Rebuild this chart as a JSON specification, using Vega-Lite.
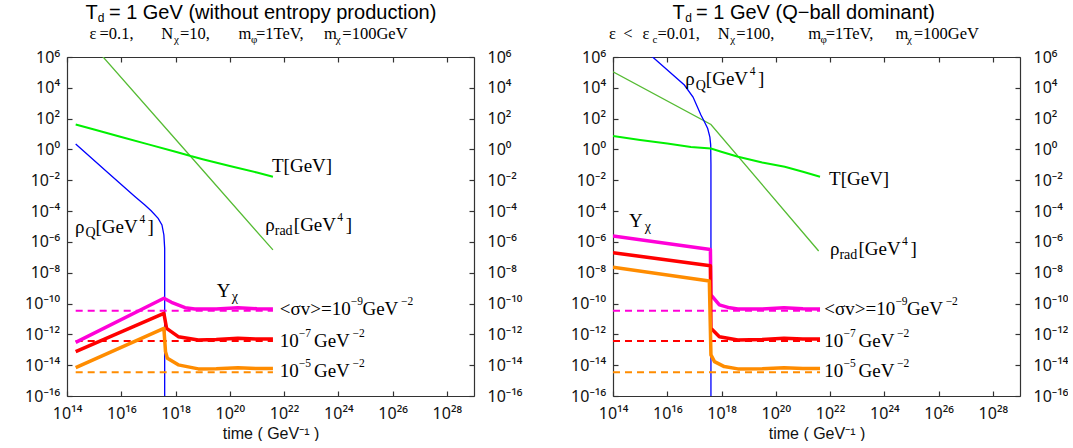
{
"$schema": "https://vega.github.io/schema/vega-lite/v6.json",
"background": "white",
"padding": {"left": 24, "top": 3, "right": 0, "bottom": 0},
"spacing": 139,
"bounds": "flush",
"datasets": {
"curves": [
{"p":"L","s":"T","t":2.09e14,"v":41.7},{"p":"L","s":"T","t":1e15,"v":19.5},{"p":"L","s":"T","t":1e16,"v":6.46},{"p":"L","s":"T","t":1e17,"v":2.14},{"p":"L","s":"T","t":1e18,"v":0.708},{"p":"L","s":"T","t":3.63e18,"v":0.372},{"p":"L","s":"T","t":1e19,"v":0.234},{"p":"L","s":"T","t":1e20,"v":0.0851},{"p":"L","s":"T","t":1e21,"v":0.0316},{"p":"L","s":"T","t":3.89e21,"v":0.017},
{"p":"L","s":"rho_rad","t":2.09e14,"v":1.05e8},{"p":"L","s":"rho_rad","t":3.63e18,"v":0.347},{"p":"L","s":"rho_rad","t":3.89e21,"v":3.02e-7},
{"p":"L","s":"rho_Q","t":2.09e14,"v":2.24},{"p":"L","s":"rho_Q","t":3.16e15,"v":0.0324},{"p":"L","s":"rho_Q","t":3.16e16,"v":8.91e-4},{"p":"L","s":"rho_Q","t":7.41e16,"v":2.45e-4},{"p":"L","s":"rho_Q","t":1.26e17,"v":1.05e-4},{"p":"L","s":"rho_Q","t":2.29e17,"v":3.39e-5},{"p":"L","s":"rho_Q","t":3.16e17,"v":1.26e-5},{"p":"L","s":"rho_Q","t":3.72e17,"v":2.82e-6},{"p":"L","s":"rho_Q","t":3.98e17,"v":3.8e-7},{"p":"L","s":"rho_Q","t":3.98e17,"v":1e-18},
{"p":"L","s":"D9","t":2.09e14,"v":3.47e-11},{"p":"L","s":"D9","t":3.89e21,"v":3.47e-11},
{"p":"L","s":"D7","t":2.09e14,"v":3.72e-13},{"p":"L","s":"D7","t":3.89e21,"v":3.72e-13},
{"p":"L","s":"D5","t":2.09e14,"v":3.47e-15},{"p":"L","s":"D5","t":3.89e21,"v":3.47e-15},
{"p":"L","s":"Y9","t":2.09e14,"v":3.02e-13},{"p":"L","s":"Y9","t":3.72e17,"v":2.19e-10},{"p":"L","s":"Y9","t":7.08e17,"v":1.2e-10},{"p":"L","s":"Y9","t":2.24e18,"v":5.37e-11},{"p":"L","s":"Y9","t":5.13e18,"v":4.47e-11},{"p":"L","s":"Y9","t":3.16e19,"v":4.37e-11},{"p":"L","s":"Y9","t":2e20,"v":5.37e-11},{"p":"L","s":"Y9","t":1e21,"v":4.57e-11},{"p":"L","s":"Y9","t":3.89e21,"v":4.47e-11},
{"p":"L","s":"Y7","t":2.09e14,"v":7.59e-14},{"p":"L","s":"Y7","t":3.72e17,"v":2.29e-11},{"p":"L","s":"Y7","t":4.68e17,"v":2.45e-12},{"p":"L","s":"Y7","t":1.26e18,"v":7.08e-13},{"p":"L","s":"Y7","t":6.92e18,"v":4.37e-13},{"p":"L","s":"Y7","t":3.16e19,"v":4.68e-13},{"p":"L","s":"Y7","t":2e20,"v":5.5e-13},{"p":"L","s":"Y7","t":1e21,"v":5.01e-13},{"p":"L","s":"Y7","t":3.89e21,"v":5.01e-13},
{"p":"L","s":"Y5","t":2.09e14,"v":6.92e-15},{"p":"L","s":"Y5","t":3.72e17,"v":2.45e-12},{"p":"L","s":"Y5","t":4.27e17,"v":7.59e-14},{"p":"L","s":"Y5","t":5.01e17,"v":2.82e-14},{"p":"L","s":"Y5","t":1.26e18,"v":1.05e-14},{"p":"L","s":"Y5","t":6.92e18,"v":5.75e-15},{"p":"L","s":"Y5","t":3.16e19,"v":5.89e-15},{"p":"L","s":"Y5","t":2e20,"v":6.76e-15},{"p":"L","s":"Y5","t":1e21,"v":6.03e-15},{"p":"L","s":"Y5","t":3.89e21,"v":6.03e-15},
{"p":"R","s":"T","t":1e14,"v":7.41},{"p":"R","s":"T","t":1e15,"v":4.17},{"p":"R","s":"T","t":1e16,"v":2.4},{"p":"R","s":"T","t":7.41e16,"v":1.445},{"p":"R","s":"T","t":4.07e17,"v":1.148},{"p":"R","s":"T","t":9.77e17,"v":0.708},{"p":"R","s":"T","t":4.07e18,"v":0.339},{"p":"R","s":"T","t":3.16e19,"v":0.141},{"p":"R","s":"T","t":2.14e20,"v":0.0759},{"p":"R","s":"T","t":1e21,"v":0.0355},{"p":"R","s":"T","t":4.27e21,"v":0.017},
{"p":"R","s":"rho_rad","t":1e14,"v":1.1e5},{"p":"R","s":"rho_rad","t":4.07e17,"v":41.7},{"p":"R","s":"rho_rad","t":3.8e21,"v":2.57e-7},
{"p":"R","s":"rho_Q","t":1e14,"v":1.9e8},{"p":"R","s":"rho_Q","t":2.88e15,"v":1e6},{"p":"R","s":"rho_Q","t":4.27e16,"v":1.51e4},{"p":"R","s":"rho_Q","t":8.91e16,"v":2512},{"p":"R","s":"rho_Q","t":1.74e17,"v":170},{"p":"R","s":"rho_Q","t":2.34e17,"v":63.1},{"p":"R","s":"rho_Q","t":3.09e17,"v":22.9},{"p":"R","s":"rho_Q","t":3.72e17,"v":6.31},{"p":"R","s":"rho_Q","t":3.98e17,"v":2.0},{"p":"R","s":"rho_Q","t":4.07e17,"v":0.1},{"p":"R","s":"rho_Q","t":4.07e17,"v":1e-18},
{"p":"R","s":"D9","t":1e14,"v":3.47e-11},{"p":"R","s":"D9","t":4.27e21,"v":3.47e-11},
{"p":"R","s":"D7","t":1e14,"v":3.72e-13},{"p":"R","s":"D7","t":4.27e21,"v":3.72e-13},
{"p":"R","s":"D5","t":1e14,"v":3.47e-15},{"p":"R","s":"D5","t":4.27e21,"v":3.47e-15},
{"p":"R","s":"Y9","t":1e14,"v":2.4e-6},{"p":"R","s":"Y9","t":3.89e17,"v":3.24e-7},{"p":"R","s":"Y9","t":4.07e17,"v":3.63e-10},{"p":"R","s":"Y9","t":8.32e17,"v":8.13e-11},{"p":"R","s":"Y9","t":2e18,"v":5.25e-11},{"p":"R","s":"Y9","t":3.98e18,"v":4.47e-11},{"p":"R","s":"Y9","t":3.16e19,"v":4.37e-11},{"p":"R","s":"Y9","t":2e20,"v":5.37e-11},{"p":"R","s":"Y9","t":1e21,"v":4.57e-11},{"p":"R","s":"Y9","t":4.27e21,"v":4.47e-11},
{"p":"R","s":"Y7","t":1e14,"v":2e-7},{"p":"R","s":"Y7","t":3.89e17,"v":2.88e-8},{"p":"R","s":"Y7","t":4.07e17,"v":2.45e-12},{"p":"R","s":"Y7","t":8.32e17,"v":7.08e-13},{"p":"R","s":"Y7","t":3.98e18,"v":4.37e-13},{"p":"R","s":"Y7","t":3.16e19,"v":4.68e-13},{"p":"R","s":"Y7","t":2e20,"v":5.5e-13},{"p":"R","s":"Y7","t":1e21,"v":5.01e-13},{"p":"R","s":"Y7","t":4.27e21,"v":5.01e-13},
{"p":"R","s":"Y5","t":1e14,"v":2.24e-8},{"p":"R","s":"Y5","t":3.55e17,"v":2.95e-9},{"p":"R","s":"Y5","t":4.07e17,"v":4.68e-14},{"p":"R","s":"Y5","t":5.5e17,"v":1.7e-14},{"p":"R","s":"Y5","t":1.26e18,"v":8.13e-15},{"p":"R","s":"Y5","t":3.98e18,"v":5.75e-15},{"p":"R","s":"Y5","t":3.16e19,"v":5.89e-15},{"p":"R","s":"Y5","t":2e20,"v":6.76e-15},{"p":"R","s":"Y5","t":1e21,"v":6.03e-15},{"p":"R","s":"Y5","t":4.27e21,"v":6.03e-15}
],
"labels": [
{"p":"L","role":"title","x":4.79e14,"y":2.864e8,"text":"T"},
{"p":"L","role":"titlesub","x":1.371e15,"y":1.774e8,"text":"d"},
{"p":"L","role":"title","x":3.5e15,"y":2.864e8,"text":"= 1 GeV (without entropy production)"},
{"p":"R","role":"title","x":1.57e16,"y":2.864e8,"text":"T"},
{"p":"R","role":"titlesub","x":4.645e16,"y":1.774e8,"text":"d"},
{"p":"R","role":"title","x":1.146e17,"y":2.864e8,"text":"= 1 GeV (Q−ball dominant)"},
{"p":"L","role":"param","x":6.761e14,"y":1.578e7,"text":"ε"},
{"p":"L","role":"param","x":1.585e15,"y":1.578e7,"text":"=0.1,"},
{"p":"L","role":"param","x":2.951e17,"y":1.578e7,"text":"N"},
{"p":"L","role":"paramsub","x":8.73e17,"y":8.69e6,"text":"χ"},
{"p":"L","role":"param","x":1.456e18,"y":1.578e7,"text":"=10,"},
{"p":"L","role":"param","x":2.099e20,"y":1.578e7,"text":"m"},
{"p":"L","role":"paramsub","x":5.998e20,"y":8.69e6,"text":"φ"},
{"p":"L","role":"param","x":9.183e20,"y":1.578e7,"text":"=1TeV,"},
{"p":"L","role":"param","x":2.951e23,"y":1.578e7,"text":"m"},
{"p":"L","role":"paramsub","x":8.017e23,"y":8.69e6,"text":"χ"},
{"p":"L","role":"param","x":1.406e24,"y":1.578e7,"text":"=100GeV"},
{"p":"R","role":"param","x":7.112e13,"y":1.578e7,"text":"ε"},
{"p":"R","role":"param","x":2.404e14,"y":1.578e7,"text":"<"},
{"p":"R","role":"param","x":1.216e15,"y":1.578e7,"text":"ε"},
{"p":"R","role":"paramsub","x":2.858e15,"y":8.69e6,"text":"c"},
{"p":"R","role":"param","x":4.375e15,"y":1.578e7,"text":"=0.01,"},
{"p":"R","role":"param","x":7.295e17,"y":1.578e7,"text":"N"},
{"p":"R","role":"paramsub","x":2.084e18,"y":8.69e6,"text":"χ"},
{"p":"R","role":"param","x":3.475e18,"y":1.578e7,"text":"=100,"},
{"p":"R","role":"param","x":1.57e21,"y":1.578e7,"text":"m"},
{"p":"R","role":"paramsub","x":4.487e21,"y":8.69e6,"text":"φ"},
{"p":"R","role":"param","x":6.871e21,"y":1.578e7,"text":"=1TeV,"},
{"p":"R","role":"param","x":2.553e24,"y":1.578e7,"text":"m"},
{"p":"R","role":"paramsub","x":6.871e24,"y":8.69e6,"text":"χ"},
{"p":"R","role":"param","x":1.216e25,"y":1.578e7,"text":"=100GeV"},
{"p":"L","role":"lab","x":1.977e14,"y":3.963e-6,"text":"ρ"},
{"p":"L","role":"labsub","x":4.797e14,"y":2.023e-6,"text":"Q"},
{"p":"L","role":"lab","x":1.127e15,"y":3.963e-6,"text":"[GeV"},
{"p":"L","role":"labsup","x":4.721e16,"y":1.766e-5,"text":"4"},
{"p":"L","role":"lab","x":9.333e16,"y":3.963e-6,"text":"]"},
{"p":"L","role":"lab","x":3.597e21,"y":0.03581,"text":"T[GeV]"},
{"p":"L","role":"lab","x":2.046e21,"y":5.105e-6,"text":"ρ"},
{"p":"L","role":"labsub","x":4.529e21,"y":2.606e-6,"text":"rad"},
{"p":"L","role":"lab","x":2.286e22,"y":5.105e-6,"text":"[GeV"},
{"p":"L","role":"labsup","x":9.183e23,"y":2.275e-5,"text":"4"},
{"p":"L","role":"lab","x":1.879e24,"y":5.105e-6,"text":"]"},
{"p":"L","role":"lab","x":3.304e19,"y":2.799e-10,"text":"Y"},
{"p":"L","role":"labsub","x":1.186e20,"y":1.429e-10,"text":"χ"},
{"p":"L","role":"lab","x":6.934e21,"y":1.824e-11,"text":"<σv>=10"},
{"p":"L","role":"labsup","x":2.877e24,"y":8.128e-11,"text":"−9"},
{"p":"L","role":"lab","x":7.745e24,"y":1.824e-11,"text":"GeV"},
{"p":"L","role":"labsup","x":2.046e26,"y":8.128e-11,"text":"−2"},
{"p":"L","role":"lab","x":6.934e21,"y":1.603e-13,"text":"10"},
{"p":"L","role":"labsup","x":3.499e22,"y":7.145e-13,"text":"−7"},
{"p":"L","role":"lab","x":1.259e23,"y":1.603e-13,"text":"GeV"},
{"p":"L","role":"labsup","x":3.304e24,"y":7.145e-13,"text":"−2"},
{"p":"L","role":"lab","x":6.934e21,"y":1.637e-15,"text":"10"},
{"p":"L","role":"labsup","x":3.499e22,"y":7.295e-15,"text":"−5"},
{"p":"L","role":"lab","x":1.259e23,"y":1.637e-15,"text":"GeV"},
{"p":"L","role":"labsup","x":3.304e24,"y":7.295e-15,"text":"−2"},
{"p":"R","role":"lab","x":4.645e16,"y":1.5e4,"text":"ρ"},
{"p":"R","role":"labsub","x":1.127e17,"y":7.656e3,"text":"Q"},
{"p":"R","role":"lab","x":2.642e17,"y":1.5e4,"text":"[GeV"},
{"p":"R","role":"labsup","x":1.107e19,"y":6.683e4,"text":"4"},
{"p":"R","role":"lab","x":2.193e19,"y":1.5e4,"text":"]"},
{"p":"R","role":"lab","x":9.183e21,"y":4.909e-3,"text":"T[GeV]"},
{"p":"R","role":"lab","x":1e22,"y":1.483e-7,"text":"ρ"},
{"p":"R","role":"labsub","x":2.208e22,"y":7.568e-8,"text":"rad"},
{"p":"R","role":"lab","x":1.117e23,"y":1.483e-7,"text":"[GeV"},
{"p":"R","role":"labsup","x":4.487e24,"y":6.607e-7,"text":"4"},
{"p":"R","role":"lab","x":9.183e24,"y":1.483e-7,"text":"]"},
{"p":"R","role":"lab","x":3.917e14,"y":9.705e-6,"text":"Y"},
{"p":"R","role":"labsub","x":1.479e15,"y":4.955e-6,"text":"χ"},
{"p":"R","role":"lab","x":6.15e21,"y":1.824e-11,"text":"<σv>=10"},
{"p":"R","role":"labsup","x":2.553e24,"y":8.128e-11,"text":"−9"},
{"p":"R","role":"lab","x":6.871e24,"y":1.824e-11,"text":"GeV"},
{"p":"R","role":"labsup","x":1.816e26,"y":8.128e-11,"text":"−2"},
{"p":"R","role":"lab","x":6.15e21,"y":1.603e-13,"text":"10"},
{"p":"R","role":"labsup","x":3.11e22,"y":7.145e-13,"text":"−7"},
{"p":"R","role":"lab","x":1.117e23,"y":1.603e-13,"text":"GeV"},
{"p":"R","role":"labsup","x":2.93e24,"y":7.145e-13,"text":"−2"},
{"p":"R","role":"lab","x":6.15e21,"y":1.637e-15,"text":"10"},
{"p":"R","role":"labsup","x":3.11e22,"y":7.295e-15,"text":"−5"},
{"p":"R","role":"lab","x":1.117e23,"y":1.637e-15,"text":"GeV"},
{"p":"R","role":"labsup","x":2.93e24,"y":7.295e-15,"text":"−2"}
]
},
"hconcat": [
{
"width": 407, "height": 339,
"resolve": {"axis": {"x": "independent", "y": "independent"}},
"layer": [
{"data": {"name": "curves"}, "transform": [{"filter": "datum.p==='L' && (datum.s==='rho_rad' || datum.s==='rho_Q')"}],
 "mark": {"type": "line", "clip": true, "strokeWidth": 1.3},
 "encoding": {
  "x": {"field": "t", "type": "quantitative", "scale": {"type": "log", "domain": [1e14, 1e29], "nice": false},
        "axis": {"orient": "bottom", "values": [1e14,1e16,1e18,1e20,1e22,1e24,1e26,1e28], "labelExpr": "'10' + ['¹⁴','¹⁶','¹⁸','²⁰','²²','²⁴','²⁶','²⁸'][round(log(datum.value)/LN10/2) - 7]", "title": "time ( GeV⁻¹ )", "labelPadding": 14, "labelFlush": false, "labelOverlap": false, "titlePadding": 4}},
  "y": {"field": "v", "type": "quantitative", "scale": {"type": "log", "domain": [1e-16, 1e6], "nice": false},
        "axis": {"orient": "left", "values": [1e-16,1e-14,1e-12,1e-10,1e-8,1e-6,1e-4,1e-2,1,1e2,1e4,1e6], "labelExpr": "'10' + ['⁻¹⁶','⁻¹⁴','⁻¹²','⁻¹⁰','⁻⁸','⁻⁶','⁻⁴','⁻²','⁰','²','⁴','⁶'][round(log(datum.value)/LN10/2) + 8]", "title": null, "labelPadding": 12.5, "labelOverlap": false}},
  "color": {"field": "s", "type": "nominal", "legend": null, "scale": {"domain": ["rho_rad","T","rho_Q","D9","D7","D5","Y9","Y7","Y5"], "range": ["#55bb33","#00f000","#0000ff","#ff00d8","#ff0000","#ff8c00","#ff00d8","#ff0000","#ff8c00"]}},
  "order": {"value": null}
 }},
{"data": {"name": "curves"}, "transform": [{"filter": "datum.p==='L' && datum.s==='T'"}],
 "mark": {"type": "line", "clip": true, "strokeWidth": 2},
 "encoding": {
  "x": {"field": "t", "type": "quantitative", "scale": {"type": "log", "domain": [1e14, 1e29], "nice": false},
        "axis": {"orient": "top", "values": [1e14,1e16,1e18,1e20,1e22,1e24,1e26,1e28], "labels": false, "title": null}},
  "y": {"field": "v", "type": "quantitative", "scale": {"type": "log", "domain": [1e-16, 1e6], "nice": false},
        "axis": {"orient": "right", "values": [1e-16,1e-14,1e-12,1e-10,1e-8,1e-6,1e-4,1e-2,1,1e2,1e4,1e6], "labelExpr": "'10' + ['⁻¹⁶','⁻¹⁴','⁻¹²','⁻¹⁰','⁻⁸','⁻⁶','⁻⁴','⁻²','⁰','²','⁴','⁶'][round(log(datum.value)/LN10/2) + 8]", "title": null, "labelPadding": 18, "labelOverlap": false}},
  "color": {"field": "s", "type": "nominal", "legend": null, "scale": {"domain": ["rho_rad","T","rho_Q","D9","D7","D5","Y9","Y7","Y5"], "range": ["#55bb33","#00f000","#0000ff","#ff00d8","#ff0000","#ff8c00","#ff00d8","#ff0000","#ff8c00"]}},
  "order": {"value": null}
 }},
{"data": {"name": "curves"}, "transform": [{"filter": "datum.p==='L' && (datum.s==='D9' || datum.s==='D7' || datum.s==='D5')"}],
 "mark": {"type": "line", "clip": true, "strokeWidth": 2, "strokeDash": [7, 5]},
 "encoding": {
  "x": {"field": "t", "type": "quantitative", "scale": {"type": "log", "domain": [1e14, 1e29], "nice": false}, "axis": null},
  "y": {"field": "v", "type": "quantitative", "scale": {"type": "log", "domain": [1e-16, 1e6], "nice": false}, "axis": null},
  "color": {"field": "s", "type": "nominal", "legend": null, "scale": {"domain": ["rho_rad","T","rho_Q","D9","D7","D5","Y9","Y7","Y5"], "range": ["#55bb33","#00f000","#0000ff","#ff00d8","#ff0000","#ff8c00","#ff00d8","#ff0000","#ff8c00"]}},
  "order": {"value": null}
 }},
{"data": {"name": "curves"}, "transform": [{"filter": "datum.p==='L' && (datum.s==='Y9' || datum.s==='Y7' || datum.s==='Y5')"}],
 "mark": {"type": "line", "clip": true, "strokeWidth": 3.5, "strokeJoin": "round"},
 "encoding": {
  "x": {"field": "t", "type": "quantitative", "scale": {"type": "log", "domain": [1e14, 1e29], "nice": false}, "axis": null},
  "y": {"field": "v", "type": "quantitative", "scale": {"type": "log", "domain": [1e-16, 1e6], "nice": false}, "axis": null},
  "color": {"field": "s", "type": "nominal", "legend": null, "scale": {"domain": ["rho_rad","T","rho_Q","D9","D7","D5","Y9","Y7","Y5"], "range": ["#55bb33","#00f000","#0000ff","#ff00d8","#ff0000","#ff8c00","#ff00d8","#ff0000","#ff8c00"]}},
  "order": {"value": null}
 }},
{"data": {"name": "labels"}, "transform": [{"filter": "datum.p==='L' && datum.role==='title'"}],
 "mark": {"type": "text", "font": "Liberation Sans", "fontSize": 20, "align": "left", "baseline": "alphabetic", "color": "#000"},
 "encoding": {"x": {"field": "x", "type": "quantitative", "scale": {"type": "log", "domain": [1e14, 1e29], "nice": false}, "axis": null}, "y": {"field": "y", "type": "quantitative", "scale": {"type": "log", "domain": [1e-16, 1e6], "nice": false}, "axis": null}, "text": {"field": "text"}}},
{"data": {"name": "labels"}, "transform": [{"filter": "datum.p==='L' && datum.role==='titlesub'"}],
 "mark": {"type": "text", "font": "Liberation Sans", "fontSize": 12, "align": "left", "baseline": "alphabetic", "color": "#000"},
 "encoding": {"x": {"field": "x", "type": "quantitative", "scale": {"type": "log", "domain": [1e14, 1e29], "nice": false}, "axis": null}, "y": {"field": "y", "type": "quantitative", "scale": {"type": "log", "domain": [1e-16, 1e6], "nice": false}, "axis": null}, "text": {"field": "text"}}},
{"data": {"name": "labels"}, "transform": [{"filter": "datum.p==='L' && datum.role==='param'"}],
 "mark": {"type": "text", "font": "Liberation Serif", "fontSize": 16.5, "align": "left", "baseline": "alphabetic", "color": "#000"},
 "encoding": {"x": {"field": "x", "type": "quantitative", "scale": {"type": "log", "domain": [1e14, 1e29], "nice": false}, "axis": null}, "y": {"field": "y", "type": "quantitative", "scale": {"type": "log", "domain": [1e-16, 1e6], "nice": false}, "axis": null}, "text": {"field": "text"}}},
{"data": {"name": "labels"}, "transform": [{"filter": "datum.p==='L' && datum.role==='paramsub'"}],
 "mark": {"type": "text", "font": "Liberation Serif", "fontSize": 11, "align": "left", "baseline": "alphabetic", "color": "#000"},
 "encoding": {"x": {"field": "x", "type": "quantitative", "scale": {"type": "log", "domain": [1e14, 1e29], "nice": false}, "axis": null}, "y": {"field": "y", "type": "quantitative", "scale": {"type": "log", "domain": [1e-16, 1e6], "nice": false}, "axis": null}, "text": {"field": "text"}}},
{"data": {"name": "labels"}, "transform": [{"filter": "datum.p==='L' && datum.role==='lab'"}],
 "mark": {"type": "text", "font": "Liberation Serif", "fontSize": 19, "align": "left", "baseline": "alphabetic", "color": "#000"},
 "encoding": {"x": {"field": "x", "type": "quantitative", "scale": {"type": "log", "domain": [1e14, 1e29], "nice": false}, "axis": null}, "y": {"field": "y", "type": "quantitative", "scale": {"type": "log", "domain": [1e-16, 1e6], "nice": false}, "axis": null}, "text": {"field": "text"}}},
{"data": {"name": "labels"}, "transform": [{"filter": "datum.p==='L' && datum.role==='labsub'"}],
 "mark": {"type": "text", "font": "Liberation Serif", "fontSize": 14, "align": "left", "baseline": "alphabetic", "color": "#000"},
 "encoding": {"x": {"field": "x", "type": "quantitative", "scale": {"type": "log", "domain": [1e14, 1e29], "nice": false}, "axis": null}, "y": {"field": "y", "type": "quantitative", "scale": {"type": "log", "domain": [1e-16, 1e6], "nice": false}, "axis": null}, "text": {"field": "text"}}},
{"data": {"name": "labels"}, "transform": [{"filter": "datum.p==='L' && datum.role==='labsup'"}],
 "mark": {"type": "text", "font": "Liberation Serif", "fontSize": 11.5, "align": "left", "baseline": "alphabetic", "color": "#000"},
 "encoding": {"x": {"field": "x", "type": "quantitative", "scale": {"type": "log", "domain": [1e14, 1e29], "nice": false}, "axis": null}, "y": {"field": "y", "type": "quantitative", "scale": {"type": "log", "domain": [1e-16, 1e6], "nice": false}, "axis": null}, "text": {"field": "text"}}}
]
},
{
"width": 407, "height": 339,
"resolve": {"axis": {"x": "independent", "y": "independent"}},
"layer": [
{"data": {"name": "curves"}, "transform": [{"filter": "datum.p==='R' && (datum.s==='rho_rad' || datum.s==='rho_Q')"}],
 "mark": {"type": "line", "clip": true, "strokeWidth": 1.3},
 "encoding": {
  "x": {"field": "t", "type": "quantitative", "scale": {"type": "log", "domain": [1e14, 1e29], "nice": false},
        "axis": {"orient": "bottom", "values": [1e14,1e16,1e18,1e20,1e22,1e24,1e26,1e28], "labelExpr": "'10' + ['¹⁴','¹⁶','¹⁸','²⁰','²²','²⁴','²⁶','²⁸'][round(log(datum.value)/LN10/2) - 7]", "title": "time ( GeV⁻¹ )", "labelPadding": 14, "labelFlush": false, "labelOverlap": false, "titlePadding": 4}},
  "y": {"field": "v", "type": "quantitative", "scale": {"type": "log", "domain": [1e-16, 1e6], "nice": false},
        "axis": {"orient": "left", "values": [1e-16,1e-14,1e-12,1e-10,1e-8,1e-6,1e-4,1e-2,1,1e2,1e4,1e6], "labelExpr": "'10' + ['⁻¹⁶','⁻¹⁴','⁻¹²','⁻¹⁰','⁻⁸','⁻⁶','⁻⁴','⁻²','⁰','²','⁴','⁶'][round(log(datum.value)/LN10/2) + 8]", "title": null, "labelPadding": 12.5, "labelOverlap": false}},
  "color": {"field": "s", "type": "nominal", "legend": null, "scale": {"domain": ["rho_rad","T","rho_Q","D9","D7","D5","Y9","Y7","Y5"], "range": ["#55bb33","#00f000","#0000ff","#ff00d8","#ff0000","#ff8c00","#ff00d8","#ff0000","#ff8c00"]}},
  "order": {"value": null}
 }},
{"data": {"name": "curves"}, "transform": [{"filter": "datum.p==='R' && datum.s==='T'"}],
 "mark": {"type": "line", "clip": true, "strokeWidth": 2},
 "encoding": {
  "x": {"field": "t", "type": "quantitative", "scale": {"type": "log", "domain": [1e14, 1e29], "nice": false},
        "axis": {"orient": "top", "values": [1e14,1e16,1e18,1e20,1e22,1e24,1e26,1e28], "labels": false, "title": null}},
  "y": {"field": "v", "type": "quantitative", "scale": {"type": "log", "domain": [1e-16, 1e6], "nice": false},
        "axis": {"orient": "right", "values": [1e-16,1e-14,1e-12,1e-10,1e-8,1e-6,1e-4,1e-2,1,1e2,1e4,1e6], "labelExpr": "'10' + ['⁻¹⁶','⁻¹⁴','⁻¹²','⁻¹⁰','⁻⁸','⁻⁶','⁻⁴','⁻²','⁰','²','⁴','⁶'][round(log(datum.value)/LN10/2) + 8]", "title": null, "labelPadding": 18, "labelOverlap": false}},
  "color": {"field": "s", "type": "nominal", "legend": null, "scale": {"domain": ["rho_rad","T","rho_Q","D9","D7","D5","Y9","Y7","Y5"], "range": ["#55bb33","#00f000","#0000ff","#ff00d8","#ff0000","#ff8c00","#ff00d8","#ff0000","#ff8c00"]}},
  "order": {"value": null}
 }},
{"data": {"name": "curves"}, "transform": [{"filter": "datum.p==='R' && (datum.s==='D9' || datum.s==='D7' || datum.s==='D5')"}],
 "mark": {"type": "line", "clip": true, "strokeWidth": 2, "strokeDash": [7, 5]},
 "encoding": {
  "x": {"field": "t", "type": "quantitative", "scale": {"type": "log", "domain": [1e14, 1e29], "nice": false}, "axis": null},
  "y": {"field": "v", "type": "quantitative", "scale": {"type": "log", "domain": [1e-16, 1e6], "nice": false}, "axis": null},
  "color": {"field": "s", "type": "nominal", "legend": null, "scale": {"domain": ["rho_rad","T","rho_Q","D9","D7","D5","Y9","Y7","Y5"], "range": ["#55bb33","#00f000","#0000ff","#ff00d8","#ff0000","#ff8c00","#ff00d8","#ff0000","#ff8c00"]}},
  "order": {"value": null}
 }},
{"data": {"name": "curves"}, "transform": [{"filter": "datum.p==='R' && (datum.s==='Y9' || datum.s==='Y7' || datum.s==='Y5')"}],
 "mark": {"type": "line", "clip": true, "strokeWidth": 3.5, "strokeJoin": "round"},
 "encoding": {
  "x": {"field": "t", "type": "quantitative", "scale": {"type": "log", "domain": [1e14, 1e29], "nice": false}, "axis": null},
  "y": {"field": "v", "type": "quantitative", "scale": {"type": "log", "domain": [1e-16, 1e6], "nice": false}, "axis": null},
  "color": {"field": "s", "type": "nominal", "legend": null, "scale": {"domain": ["rho_rad","T","rho_Q","D9","D7","D5","Y9","Y7","Y5"], "range": ["#55bb33","#00f000","#0000ff","#ff00d8","#ff0000","#ff8c00","#ff00d8","#ff0000","#ff8c00"]}},
  "order": {"value": null}
 }},
{"data": {"name": "labels"}, "transform": [{"filter": "datum.p==='R' && datum.role==='title'"}],
 "mark": {"type": "text", "font": "Liberation Sans", "fontSize": 20, "align": "left", "baseline": "alphabetic", "color": "#000"},
 "encoding": {"x": {"field": "x", "type": "quantitative", "scale": {"type": "log", "domain": [1e14, 1e29], "nice": false}, "axis": null}, "y": {"field": "y", "type": "quantitative", "scale": {"type": "log", "domain": [1e-16, 1e6], "nice": false}, "axis": null}, "text": {"field": "text"}}},
{"data": {"name": "labels"}, "transform": [{"filter": "datum.p==='R' && datum.role==='titlesub'"}],
 "mark": {"type": "text", "font": "Liberation Sans", "fontSize": 12, "align": "left", "baseline": "alphabetic", "color": "#000"},
 "encoding": {"x": {"field": "x", "type": "quantitative", "scale": {"type": "log", "domain": [1e14, 1e29], "nice": false}, "axis": null}, "y": {"field": "y", "type": "quantitative", "scale": {"type": "log", "domain": [1e-16, 1e6], "nice": false}, "axis": null}, "text": {"field": "text"}}},
{"data": {"name": "labels"}, "transform": [{"filter": "datum.p==='R' && datum.role==='param'"}],
 "mark": {"type": "text", "font": "Liberation Serif", "fontSize": 16.5, "align": "left", "baseline": "alphabetic", "color": "#000"},
 "encoding": {"x": {"field": "x", "type": "quantitative", "scale": {"type": "log", "domain": [1e14, 1e29], "nice": false}, "axis": null}, "y": {"field": "y", "type": "quantitative", "scale": {"type": "log", "domain": [1e-16, 1e6], "nice": false}, "axis": null}, "text": {"field": "text"}}},
{"data": {"name": "labels"}, "transform": [{"filter": "datum.p==='R' && datum.role==='paramsub'"}],
 "mark": {"type": "text", "font": "Liberation Serif", "fontSize": 11, "align": "left", "baseline": "alphabetic", "color": "#000"},
 "encoding": {"x": {"field": "x", "type": "quantitative", "scale": {"type": "log", "domain": [1e14, 1e29], "nice": false}, "axis": null}, "y": {"field": "y", "type": "quantitative", "scale": {"type": "log", "domain": [1e-16, 1e6], "nice": false}, "axis": null}, "text": {"field": "text"}}},
{"data": {"name": "labels"}, "transform": [{"filter": "datum.p==='R' && datum.role==='lab'"}],
 "mark": {"type": "text", "font": "Liberation Serif", "fontSize": 19, "align": "left", "baseline": "alphabetic", "color": "#000"},
 "encoding": {"x": {"field": "x", "type": "quantitative", "scale": {"type": "log", "domain": [1e14, 1e29], "nice": false}, "axis": null}, "y": {"field": "y", "type": "quantitative", "scale": {"type": "log", "domain": [1e-16, 1e6], "nice": false}, "axis": null}, "text": {"field": "text"}}},
{"data": {"name": "labels"}, "transform": [{"filter": "datum.p==='R' && datum.role==='labsub'"}],
 "mark": {"type": "text", "font": "Liberation Serif", "fontSize": 14, "align": "left", "baseline": "alphabetic", "color": "#000"},
 "encoding": {"x": {"field": "x", "type": "quantitative", "scale": {"type": "log", "domain": [1e14, 1e29], "nice": false}, "axis": null}, "y": {"field": "y", "type": "quantitative", "scale": {"type": "log", "domain": [1e-16, 1e6], "nice": false}, "axis": null}, "text": {"field": "text"}}},
{"data": {"name": "labels"}, "transform": [{"filter": "datum.p==='R' && datum.role==='labsup'"}],
 "mark": {"type": "text", "font": "Liberation Serif", "fontSize": 11.5, "align": "left", "baseline": "alphabetic", "color": "#000"},
 "encoding": {"x": {"field": "x", "type": "quantitative", "scale": {"type": "log", "domain": [1e14, 1e29], "nice": false}, "axis": null}, "y": {"field": "y", "type": "quantitative", "scale": {"type": "log", "domain": [1e-16, 1e6], "nice": false}, "axis": null}, "text": {"field": "text"}}}
]
}
],
"config": {
 "view": {"stroke": null},
 "axis": {"domainColor": "#333", "tickColor": "#333", "domainWidth": 1.2, "tickWidth": 1.2, "tickSize": -5, "labelColor": "#111", "labelFont": "Noto Sans", "labelFontSize": 16, "titleFont": "Liberation Sans", "titleFontSize": 16, "titleFontWeight": "normal", "titleColor": "#111", "grid": false}
}
}
